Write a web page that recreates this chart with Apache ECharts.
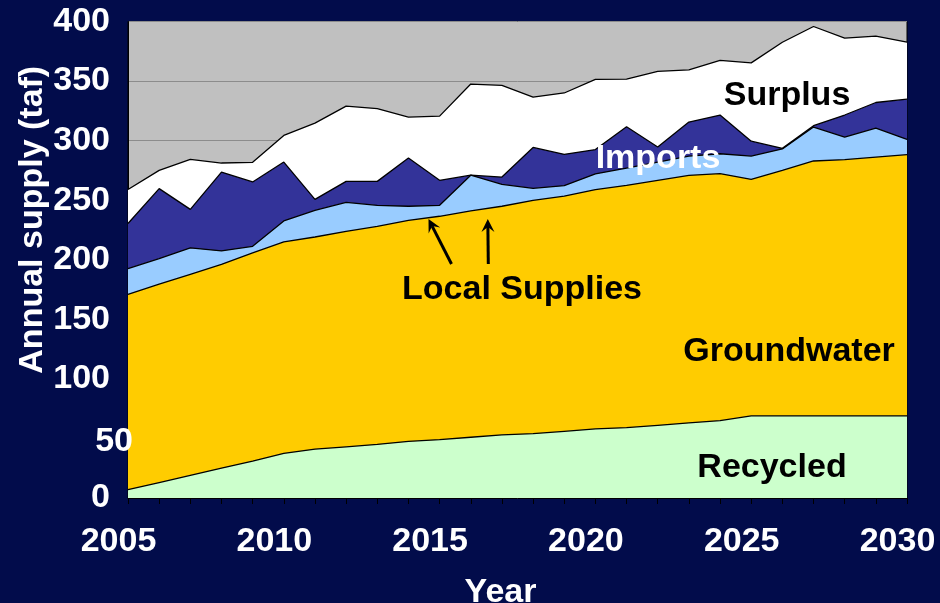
<!DOCTYPE html>
<html>
<head>
<meta charset="utf-8">
<script src="https://cdn.jsdelivr.net/npm/echarts@6/dist/echarts.min.js"></script>
<style>
  html, body { margin: 0; padding: 0; background: #020c4b; }
  #chart { width: 940px; height: 603px; }
</style>
</head>
<body>
<div id="chart"></div>
<script>
// Years on the horizontal axis
const years = ['2005','2006','2007','2008','2009','2010','2011','2012','2013','2014','2015','2016','2017',
               '2018','2019','2020','2021','2022','2023','2024','2025','2026','2027','2028','2029','2030'];

// Annual supply by source (thousand acre-feet), stacked bottom to top
const recycled    = [7, 13, 19, 25, 31, 37.5, 41, 43, 45, 47.5, 49, 51, 53, 54, 56, 58, 59, 61, 63, 65, 69, 69, 69, 69, 69, 69];
const groundwater = [164, 166.5, 168.8, 171.2, 174.7, 177.5, 178.1, 180.9, 183, 185.6, 187.5, 190, 191.9, 195.9, 197.4, 200.9, 203.5, 205.7, 207.9, 207.3, 198.5, 206, 213.9, 215, 217.2, 219.2];
const localSupply = [21.6, 21.5, 22.1, 11.2, 5.6, 17.6, 22.4, 24.3, 17.7, 11.8, 9.2, 30, 18.4, 10.1, 8.8, 13.1, 14.5, 15.3, 16.1, 16.7, 19.5, 18, 28.5, 19, 24.3, 12.8];
const imports     = [37.8, 58.7, 32.4, 66.2, 54, 49.4, 9.2, 17.6, 20.1, 40.5, 21, 0, 6.1, 34.3, 26.3, 20.5, 34.7, 12.6, 28.6, 32.5, 12.5, 0.5, 1.1, 18.5, 21.5, 33.8];
const surplus     = [28.6, 15.3, 42, 7.6, 16.5, 22.4, 64, 63.2, 61, 34.4, 53.9, 76.5, 76.9, 42.2, 51.5, 58.9, 39.9, 63.6, 43.8, 45.8, 65.8, 89.1, 83.3, 64.5, 55.7, 47.8];

// Value-axis tick labels
const yTicks = [0, 50, 100, 150, 200, 250, 300, 350, 400];

const FONT = '"Liberation Sans", Arial, sans-serif';
const chart = echarts.init(document.getElementById('chart'), null, { renderer: 'canvas' });

function layer(name, data, color) {
  return {
    name: name,
    type: 'line',
    stack: 'supply',
    data: data,
    symbol: 'none',
    smooth: false,
    lineStyle: { color: '#000', width: 1.3 },
    areaStyle: { color: color, opacity: 1 },
    emphasis: { disabled: true },
    animation: false
  };
}

const axisText = {
  color: '#fff',
  fontFamily: FONT,
  fontWeight: 'bold',
  fontSize: 34,
  textShadowColor: '#000',
  textShadowOffsetX: 2,
  textShadowOffsetY: 2,
  textShadowBlur: 0
};

function label(text, x, y, color, shadow) {
  return {
    type: 'text',
    x: x, y: y, z: 100,
    style: {
      text: text,
      fill: color,
      font: 'bold 34px ' + FONT,
      textAlign: 'center',
      textVerticalAlign: 'middle',
      textShadowColor: shadow,
      textShadowOffsetX: 2,
      textShadowOffsetY: 2,
      textShadowBlur: 0
    }
  };
}

function arrow(x1, y1, x2, y2) {
  const ang = Math.atan2(y2 - y1, x2 - x1);
  const len = 13, half = 6.5, notch = 8;
  const bx = x2 - Math.cos(ang) * len, by = y2 - Math.sin(ang) * len;
  const nx = x2 - Math.cos(ang) * notch, ny = y2 - Math.sin(ang) * notch;
  const px = -Math.sin(ang) * half, py = Math.cos(ang) * half;
  return [
    { type: 'line', z: 100, shape: { x1: x1, y1: y1, x2: nx, y2: ny }, style: { stroke: '#000', lineWidth: 3 } },
    { type: 'polygon', z: 100, shape: { points: [[x2, y2], [bx + px, by + py], [nx, ny], [bx - px, by - py]] }, style: { fill: '#000' } }
  ];
}

chart.setOption({
  backgroundColor: '#020c4b',
  animation: false,
  grid: {
    left: 128, right: 33, top: 21.5, bottom: 105,
    containLabel: false,
    outerBoundsMode: 'none',
    show: true,
    backgroundColor: '#c0c0c0',
    borderColor: '#000',
    borderWidth: 1
  },
  xAxis: {
    type: 'category',
    data: years,
    boundaryGap: false,
    name: 'Year',
    nameLocation: 'middle',
    nameGap: 78,
    nameMoveOverlap: false,
    nameTextStyle: Object.assign({}, axisText, { padding: [0, 34, 0, 0] }),
    axisLine: { show: true, lineStyle: { color: '#000', width: 1 } },
    axisTick: { show: true, interval: 0, length: 6, lineStyle: { color: '#000' } },
    axisLabel: Object.assign({ interval: 4, margin: 27, padding: [0, 19, 0, 0] }, axisText),
    splitLine: { show: false }
  },
  yAxis: {
    type: 'value',
    min: yTicks[0],
    max: yTicks[yTicks.length - 1],
    interval: yTicks[1] - yTicks[0],
    name: 'Annual supply (taf)',
    nameLocation: 'middle',
    nameRotate: 90,
    nameGap: 78,
    nameMoveOverlap: false,
    nameTextStyle: Object.assign({}, axisText, { padding: [0, 0, 0, 80] }),
    axisLine: { show: true, lineStyle: { color: '#000' } },
    axisTick: { show: false },
    axisLabel: Object.assign({ margin: 18, formatter: v => (v === 50 ? '' : String(v)) }, axisText),
    splitLine: { show: true, lineStyle: { color: '#8c8c8c', width: 1 } }
  },
  series: [
    layer('Recycled', recycled, '#ccffcc'),
    layer('Groundwater', groundwater, '#ffcc00'),
    layer('Local Supplies', localSupply, '#99ccff'),
    layer('Imports', imports, '#333399'),
    layer('Surplus', surplus, '#ffffff')
  ]
});

// The "50" tick label sits further right than the others
const y50 = chart.convertToPixel({ yAxisIndex: 0 }, yTicks[1]);

chart.setOption({
  graphic: [
    {
      type: 'text', x: 133, y: y50 + 3, z: 100,
      style: {
        text: String(yTicks[1]), fill: '#fff', font: 'bold 34px ' + FONT,
        textAlign: 'right', textVerticalAlign: 'middle',
        textShadowColor: '#000', textShadowOffsetX: 2, textShadowOffsetY: 2, textShadowBlur: 0
      }
    },
    label('Surplus', 787, 96, '#000', 'rgba(150,150,150,0.8)'),
    label('Imports', 658, 159, '#fff', 'rgba(60,60,60,0.9)'),
    label('Local Supplies', 522, 290, '#000', 'rgba(255,255,255,0.7)'),
    label('Groundwater', 789, 352, '#000', 'rgba(255,255,255,0.6)'),
    label('Recycled', 772, 468, '#000', 'rgba(255,255,255,0.8)')
  ].concat(arrow(451.5, 264, 428.5, 219)).concat(arrow(488.3, 264, 487.8, 219))
});
</script>
</body>
</html>
